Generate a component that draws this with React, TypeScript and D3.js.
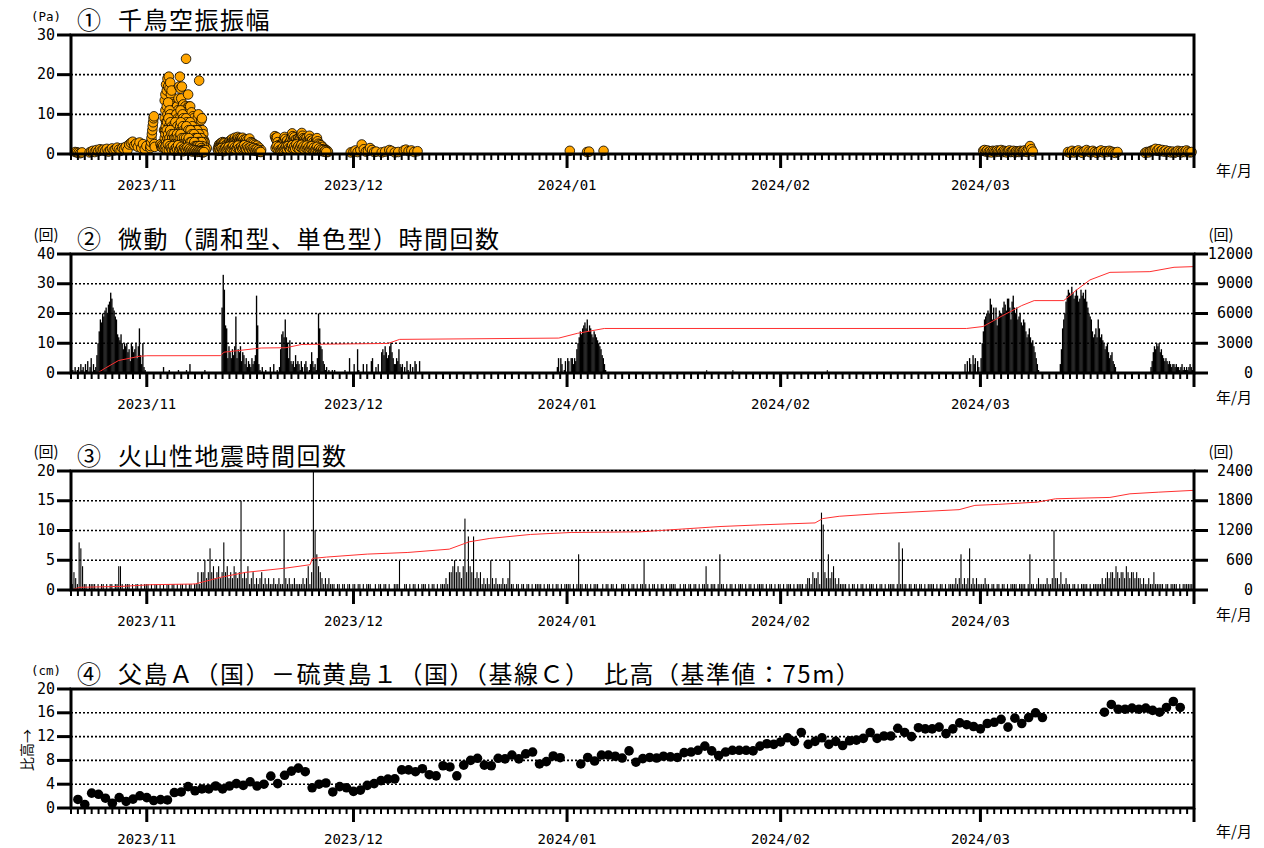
import React from "react";
import * as d3 from "d3";

// ---------- time origin (day offsets are counted from 2023-10-21 00:00) ----------
const ORIGIN = Date.UTC(2023, 9, 21);
const END = Date.UTC(2024, 3, 1);
const DAY = 86400000;
const at = (d: number) => new Date(ORIGIN + d * DAY);

// ---------- Panel 1: Chidori infrasound amplitude (Pa) ----------
const ampA1 = [0.5, 0.4, 0.3, 0.2, 0.4];
const ampA2 = [0.4, 0.6, 0.8, 0.5, 1.0, 0.7, 1.2, 0.9, 1.1, 0.8, 1.3, 0.6, 1.0, 1.4, 0.9, 1.2, 1.6, 1.1, 0.8, 1.5, 1.3, 1.8, 1.0, 2.4, 2.8, 3.1, 2.2, 2.6, 1.8, 2.9, 1.5, 2.5, 1.2, 2.0];
const ampB = [1.5, 2.0, 3.0, 4.0, 5.0, 6.0, 7.0, 8.0, 9.0, 9.5, 2.5, 1.8];
const ampCTop = [2.5, 1.8, 2.2, 1.6, 2.0, 6.0, 13.5, 15.0, 17.5, 16.0, 19.0, 17.0, 19.5, 16.5, 18.0, 15.0, 16.0, 13.0, 12.5, 10.0, 11.0, 12.0, 10.5, 11.5, 12.0, 11.0, 14.0, 17.0, 19.5, 16.5, 14.0, 17.0, 12.0, 12.5, 11.0, 10.0, 12.0, 24.0, 11.5, 10.5, 15.0, 12.0, 11.0, 12.0, 10.0, 10.5, 8.5, 9.5, 9.0, 7.5, 7.0, 6.5, 8.0, 7.5, 9.0, 10.0, 18.5, 6.0, 5.5, 8.5, 9.0, 6.0, 5.0, 3.5, 3.0, 1.5, 1.2, 1.5];
const ampCMid = [9, 11, 8, 12, 10, 13, 9, 11, 10, 8, 9, 7, 8, 6, 9, 7, 8, 10, 7, 9, 8, 6, 9, 11, 8, 7, 10, 9, 8, 6, 7, 9, 8, 6, 7, 5, 6, 8, 5, 6, 7, 5, 4, 6, 5, 4, 5, 6, 4, 3, 5, 4, 3, 4, 3, 2, 3, 2];
const ampCMid2 = [6, 7, 5, 8, 6, 9, 7, 6, 8, 5, 7, 6, 5, 7, 6, 8, 5, 6, 7, 5, 6, 4, 7, 8, 6, 5, 7, 6, 5, 4, 6, 7, 5, 4, 6, 3, 5, 6, 4, 5, 4, 3, 5, 4, 3, 4, 3, 4, 3, 2, 3, 3, 2, 3, 2];
const ampCLow = [4, 5, 3, 6, 4, 5, 3, 4, 6, 3, 5, 4, 3, 5, 4, 2, 4, 3, 5, 4, 3, 2, 4, 5, 3, 4, 2, 3, 4, 3, 2, 4, 3, 2, 3, 4, 2, 3, 2, 3, 2, 1.5, 2, 3, 2, 1.5, 2, 1, 2, 1.5, 1, 2, 1, 1.5, 1, 1, 0.8, 1, 0.7, 1];
const ampCBase = [1.5, 2, 1, 2.5, 1, 2, 1.5, 1, 2, 1, 0.8, 1.6, 1.2, 2.2, 0.9, 1.4, 1.8, 1.1, 0.7, 1.5, 1.2, 0.9, 1.6, 1.0, 1.3, 0.8, 1.1, 0.6, 1.0, 0.7, 0.9, 0.5, 0.8, 0.6, 0.7, 0.5, 0.6, 0.4, 0.5];
const ampDTop = [1.2, 1.8, 2.4, 2.0, 2.6, 2.8, 2.2, 3.0, 2.5, 2.9, 2.7, 2.1, 1.8, 2.4, 2.0, 1.5, 2.8, 3.2, 2.6, 3.5, 3.0, 3.8, 3.3, 2.9, 3.6, 4.1, 3.4, 3.0, 3.7, 4.3, 3.9, 3.2, 3.6, 4.0, 3.5, 3.8, 4.1, 3.3, 3.6, 2.8, 3.2, 3.7, 2.9, 3.4, 2.6, 3.1, 3.9, 2.7, 3.0, 2.4, 2.8, 2.2, 2.6, 1.9, 2.3, 1.8, 1.5, 2.1, 1.4, 1.0, 1.6, 0.8, 0.6, 1.0];
const ampDLow = [0.8, 1.2, 0.9, 1.5, 1.1, 0.7, 1.3, 1.6, 1.0, 1.4, 1.8, 1.2, 0.9, 1.5, 2.0, 1.3, 1.7, 1.1, 1.6, 2.1, 1.4, 1.0, 1.8, 1.3, 1.6, 2.2, 1.5, 1.2, 1.9, 1.4, 1.0, 1.7, 1.3, 0.9, 1.5, 1.1, 0.8, 1.2, 0.7, 1.0, 0.6, 0.5];
const ampETop = [4.5, 4.0, 3.6, 4.2, 3.0, 2.2, 1.8, 1.5, 2.0, 1.6, 2.4, 2.0, 3.0, 3.5, 4.3, 3.8, 3.0, 2.6, 3.4, 2.5, 2.0, 2.8, 3.2, 2.6, 4.0, 5.2, 4.5, 3.8, 4.2, 3.5, 3.0, 3.6, 2.8, 3.3, 4.0, 3.5, 3.0, 4.2, 4.8, 5.3, 4.6, 4.0, 3.5, 3.8, 3.2, 3.6, 4.0, 3.3, 2.9, 3.4, 4.6, 3.8, 3.2, 2.8, 3.4, 2.6, 3.0, 2.5, 2.2, 2.8, 3.5, 4.0, 3.2, 2.6, 2.0, 2.4, 1.8, 2.2, 1.5, 1.8, 1.2, 1.0, 1.3, 0.8, 1.0, 0.6, 0.8, 0.5];
const ampELow = [1.5, 2.0, 1.2, 1.8, 1.0, 0.8, 1.2, 1.6, 1.0, 1.4, 1.8, 1.2, 2.0, 1.5, 1.1, 1.7, 2.2, 1.4, 1.9, 1.3, 2.4, 1.6, 2.0, 1.2, 1.8, 2.3, 1.5, 1.9, 1.1, 1.6, 2.1, 1.3, 1.7, 1.0, 1.5, 2.0, 1.2, 1.6, 0.9, 1.3, 1.8, 1.0, 1.4, 0.8, 1.1, 0.7, 1.0, 0.6, 0.8, 0.5];
const ampH = [0.8, 1.0, 0.6, 0.9, 0.5, 0.7, 0.4, 0.8, 0.6, 0.5, 0.9, 0.7, 0.6, 1.0, 0.5, 0.8, 0.6, 0.4, 0.7, 0.9, 0.5, 0.6, 0.8, 0.4, 0.7, 0.6, 0.5, 0.8, 0.6, 0.7, 0.9, 0.6, 0.5, 1.4, 2.0, 1.2, 0.6];
const ampI = [0.5, 0.3, 0.8, 0.4, 0.6, 0.9, 0.5, 0.3, 0.7, 1.0, 0.6, 0.4, 0.8, 0.5, 0.3, 0.6, 0.9, 0.4, 0.7, 0.5, 0.8, 0.6, 0.4, 0.3, 0.5];
const ampJ = [0.3, 0.5, 0.4, 0.7, 0.9, 1.0, 1.3, 0.8, 1.2, 0.7, 1.0, 0.6, 0.9, 0.5, 0.7, 0.4, 0.6, 0.3, 0.5, 0.8, 0.6, 0.4, 0.7, 0.5, 0.9, 0.6, 0.4, 0.5];
const ampSingles: [number, number][] = [
  [40.6, 0.4], [41.0, 0.6], [41.3, 0.9], [41.6, 0.5], [42.0, 1.0], [42.2, 2.4], [42.5, 1.2], [42.8, 0.6], [43.1, 0.8], [43.4, 1.5], [43.7, 1.0], [44.0, 0.5], [44.3, 0.6], [45.1, 0.4], [45.6, 0.6], [46.2, 1.0], [46.5, 0.8], [47.0, 0.4], [47.5, 0.5], [48.3, 0.9], [48.6, 1.1], [49.0, 0.7], [49.4, 0.9], [49.8, 0.5], [50.3, 0.7],
  [72.4, 0.8], [74.9, 0.5], [75.2, 0.6], [77.3, 0.8],
];
const ampSeries = [
  { start: 0.6, step: 0.25, values: ampA1 },
  { start: 2.7, step: 0.25, values: ampA2 },
  { start: 11.5, step: 0.06, values: ampB },
  { start: 13.0, step: 0.1, values: ampCTop },
  { start: 13.6, step: 0.1, values: ampCMid },
  { start: 13.65, step: 0.1, values: ampCMid2 },
  { start: 13.6, step: 0.1, values: ampCLow },
  { start: 13.6, step: 0.15, values: ampCBase },
  { start: 21.3, step: 0.1, values: ampDTop },
  { start: 21.4, step: 0.15, values: ampDLow },
  { start: 29.6, step: 0.1, values: ampETop },
  { start: 29.7, step: 0.15, values: ampELow },
  { start: 132.4, step: 0.2, values: ampH },
  { start: 144.7, step: 0.3, values: ampI },
  { start: 155.9, step: 0.25, values: ampJ },
];

// ---------- Panel 2: tremor hourly counts (4-hour bins, 6 per day) ----------
const tremorW1 = [
  0, 1, 0, 2, 0, 1, 2, 0, 3, 1, 2, 0, 3, 1, 4, 0, 2, 5, 0, 3, 1, 2, 6, 10,
  14, 18, 17, 20, 19, 21, 22, 20, 23, 24, 27, 25, 22, 21, 19, 18, 13, 12,
  11, 13, 10, 8, 10, 9, 10, 7, 8, 4, 10, 9, 7, 8, 10, 5, 9, 15, 6, 3, 10, 2, 1, 0,
];
const tremorW2 = [
  0, 0, 2, 0, 0, 0, 0, 1, 0, 0, 0, 0, 0, 0, 0, 1, 0, 0, 0, 0, 0, 0, 1, 0,
  0, 3, 0, 0, 0, 0, 0, 0, 0, 0, 0, 0, 0, 0, 1, 0, 0, 0, 0, 0, 0, 0, 0, 0,
  0, 0, 0, 0, 0, 22, 33, 28, 16, 15, 5, 9, 7, 5, 8, 6, 9, 19, 5, 8, 7, 9, 4, 7,
  6, 3, 5, 2, 4, 3, 2, 5, 3, 4, 6, 26, 16, 3, 1, 0, 2, 0, 0, 1, 0, 0, 0, 2,
  0, 0, 3, 0, 0, 1, 0, 2, 8, 13, 14, 12, 18, 12, 10, 5, 11, 4, 3, 4, 2, 6, 3, 4,
  3, 1, 4, 2, 0, 3, 4, 2, 0, 1, 3, 7, 4, 2, 3, 1, 5, 20, 15, 9, 8, 4, 3, 1,
  2, 0, 1, 0, 0, 1, 0, 1, 0, 0, 0, 0, 0, 0, 0, 0, 1, 0, 0, 0, 5, 0, 0, 0,
  3, 0, 0, 8, 1, 0, 0, 0, 3, 0, 0, 3, 0, 0, 0, 4, 5, 0, 0, 2, 0, 3, 0, 0,
  7, 8, 6, 9, 7, 5, 6, 9, 10, 7, 5, 3, 3, 5, 4, 8, 3, 2, 3, 0, 2, 0, 4, 1,
  0, 3, 0, 2, 0, 4, 3, 0, 0, 4, 0, 0,
];
const tremorW3 = [
  0, 0, 0, 2, 5, 0, 5, 3, 0, 1, 4, 0, 5, 4, 0, 5, 5, 3, 5, 4, 8, 10, 12, 14,
  13, 15, 16, 17, 15, 18, 14, 16, 15, 13, 12, 14, 13, 12, 11, 10, 9, 8, 6, 5, 3, 1, 0, 0,
];
const tremorW4 = [
  0, 0, 0, 0, 3, 0, 4, 0, 5, 3, 0, 6, 3, 5, 0, 4, 2, 0,
  5, 10, 14, 18, 19, 20, 21, 20, 25, 23, 18, 22, 18, 22, 16, 19, 21, 20,
  20, 22, 24, 23, 21, 25, 25, 22, 18, 24, 26, 22, 20, 22, 18, 19, 20, 17,
  16, 18, 17, 14, 12, 13, 15, 12, 10, 11, 9, 7, 5, 3, 1, 0, 0, 0,
  0, 0, 0, 0, 0, 0, 0, 0, 0, 0, 0, 0, 0, 0, 0, 3, 8, 15,
  18, 20, 24, 26, 28, 27, 26, 29, 27, 25, 26, 28, 26, 24, 25, 28, 26, 27,
  25, 28, 24, 22, 20, 19, 18, 14, 12, 13, 15, 12, 18, 15, 12, 13, 11, 10,
  8, 9, 10, 7, 5, 6, 7, 4, 3, 2, 0, 0,
  0, 0, 0, 0, 0, 0, 0, 0, 0, 0, 0, 0, 0, 0, 0, 0, 0, 0, 0, 0, 0, 0, 0, 0,
  0, 0, 0, 0, 2, 4, 7, 9, 8, 10, 9, 10, 7, 8, 6, 5, 4, 5, 4, 3, 4, 3, 2, 3,
  3, 2, 3, 2, 2, 1, 2, 3, 1, 2, 1, 2, 1, 2, 3, 2, 1, 3,
];
const tremorSingles: [number, number][] = [[92.2, 1], [96.0, 1], [109.7, 1]];
const tremorWindows = [
  { start: 0, values: tremorW1 },
  { start: 13, values: tremorW2 },
  { start: 70, values: tremorW3 },
  { start: 129, values: tremorW4 },
];
const tremorCumDays = [0, 3.9, 5.0, 6.9, 9.9, 11, 21.7, 22.2, 27.6, 31.2, 33.5, 46, 47.7, 70.8, 73.5, 77.4, 130, 132.4, 135, 138, 139.8, 144.1, 146, 147.9, 150.8, 156.6, 160.1, 163];
const tremorCumValues = [0, 30, 500, 1260, 1680, 1740, 1750, 2100, 2520, 2550, 2880, 2980, 3390, 3520, 4000, 4490, 4490, 4690, 5700, 6800, 7300, 7300, 8400, 9385, 10150, 10220, 10660, 10730];

// ---------- Panel 3: volcanic earthquake hourly counts (6-hour bins, 4 per day) ----------
const eqOct = [1, 3, 2, 1, 8, 7, 4, 1, 1, 0, 1, 1, 1, 1, 0, 1, 0, 1, 1, 0, 1, 0, 1, 1, 0, 1, 1, 4, 4, 1, 0, 1, 1, 1, 0, 1, 0, 1, 1, 0, 1, 0, 1, 1];
const eqNov = [
  1, 0, 1, 0, 1, 1, 0, 1, 0, 1, 0, 1, 1, 0, 1, 1, 0, 1, 0, 1, 1, 0, 1, 0, 1, 1, 0, 1,
  1, 3, 1, 3, 3, 5, 2, 3, 7, 3, 4, 2, 3, 4, 2, 3, 8, 3, 4, 2, 3, 2, 4, 3, 2, 3, 15, 2,
  3, 2, 4, 1, 2, 3, 1, 2, 1, 2, 3, 1, 2, 1, 2, 1, 1, 2, 1, 1, 2, 1, 1, 10, 2, 1, 2, 1,
  1, 2, 1, 1, 1, 1, 2, 1, 2, 4, 1, 3, 20, 10, 6, 4, 3, 2, 1, 2, 1, 2, 1, 1, 1, 0, 1, 1,
  0, 1, 1, 0, 1, 1, 0, 1,
];
const eqDec = [
  1, 0, 1, 1, 0, 1, 0, 1, 1, 1, 0, 0, 1, 0, 1, 1, 0, 1, 1, 0, 1, 0, 0, 1, 1, 1, 5, 0,
  0, 1, 1, 0, 1, 0, 1, 1, 0, 1, 0, 1, 1, 1, 0, 1, 0, 1, 1, 0, 1, 0, 1, 1, 1, 2, 1, 3,
  3, 4, 5, 3, 4, 3, 2, 4, 12, 3, 9, 4, 3, 9, 2, 3, 2, 3, 1, 2, 1, 2, 1, 5, 2, 1, 2, 1,
  1, 1, 2, 1, 1, 2, 5, 1, 1, 0, 1, 1, 0, 1, 1, 0, 1, 1, 0, 1, 0, 1, 1, 1, 1, 0, 1, 0,
  1, 1, 0, 1, 0, 1, 1, 0, 1, 0, 1, 1,
];
const eqJan = [
  1, 1, 0, 1, 0, 1, 6, 1, 1, 0, 1, 1, 0, 1, 0, 1, 1, 1, 0, 0, 1, 0, 1, 1, 0, 1, 1, 0,
  1, 0, 0, 1, 1, 1, 0, 1, 0, 1, 1, 0, 1, 0, 1, 1, 5, 1, 0, 1, 0, 1, 1, 0, 1, 0, 1, 1,
  0, 1, 0, 1, 1, 1, 1, 0, 0, 1, 0, 1, 1, 0, 1, 1, 0, 1, 1, 0, 1, 0, 1, 1, 4, 1, 0, 1,
  1, 1, 0, 1, 6, 1, 1, 0, 1, 0, 1, 1, 0, 1, 0, 1, 1, 1, 0, 1, 0, 1, 1, 0, 1, 0, 1, 1,
  1, 1, 0, 1, 0, 1, 1, 0, 1, 0, 1, 1,
];
const eqFeb = [
  0, 1, 0, 1, 1, 1, 0, 1, 0, 1, 1, 1, 1, 0, 1, 2, 2, 1, 3, 2, 2, 3, 1, 13, 11, 3, 2, 6,
  2, 3, 4, 2, 1, 2, 1, 1, 1, 1, 0, 1, 0, 1, 1, 0, 1, 0, 1, 1, 0, 1, 0, 1, 1, 1, 0, 1,
  0, 1, 1, 0, 1, 0, 1, 1, 1, 1, 0, 1, 8, 1, 7, 1, 1, 0, 1, 1, 0, 1, 1, 0, 1, 1, 0, 1,
  0, 1, 1, 1, 1, 0, 1, 0, 1, 1, 0, 1, 0, 1, 1, 1, 1, 2, 1, 2, 6, 1, 2, 1, 2, 7, 1, 2,
  1, 2, 1, 1,
];
const eqMar = [
  1, 1, 2, 1, 1, 0, 1, 1, 0, 1, 1, 0, 1, 1, 0, 1, 0, 1, 1, 1, 1, 0, 1, 1, 1, 1, 0, 1,
  6, 1, 1, 0, 1, 2, 1, 1, 1, 1, 2, 1, 1, 2, 10, 2, 2, 1, 3, 1, 1, 2, 1, 1, 0, 1, 1, 0,
  1, 0, 1, 1, 1, 1, 0, 1, 0, 1, 1, 1, 1, 1, 2, 1, 2, 3, 2, 3, 3, 2, 4, 3, 2, 3, 3, 2,
  4, 3, 2, 3, 3, 2, 3, 2, 2, 1, 2, 1, 1, 2, 1, 1, 3, 1, 1, 1, 1, 1, 0, 1, 1, 0, 1, 1,
  1, 1, 0, 1, 0, 1, 1, 1, 1, 1, 1, 1,
];
const eqMonths = [
  { start: 0, values: eqOct },
  { start: 11, values: eqNov },
  { start: 41, values: eqDec },
  { start: 72, values: eqJan },
  { start: 103, values: eqFeb },
  { start: 132, values: eqMar },
];
const eqCumDays = [0, 1.26, 7.5, 11.6, 17.6, 18.1, 21.7, 25.3, 31.2, 34.7, 35.05, 37.1, 43, 48.9, 54.9, 57.8, 60.8, 66.7, 72.6, 82.6, 94.2, 99.9, 108, 109.1, 111.5, 117.3, 128.9, 131.2, 134.6, 140.3, 142.9, 150.8, 153.7, 157.8, 163];
const eqCumValues = [0, 54, 74, 107, 120, 125, 255, 355, 442, 510, 637, 664, 724, 757, 824, 972, 1040, 1120, 1160, 1173, 1280, 1313, 1353, 1440, 1487, 1540, 1620, 1707, 1727, 1773, 1840, 1867, 1940, 1973, 2010];

// ---------- Panel 4: GNSS baseline relative height (cm), daily ----------
const gnssOctDec = [1.44, 0.6, 2.5, 2.3, 1.65, 0.8, 1.75, 1.1, 1.5, 2.05, 1.75, 1.25, 1.4, 1.35, 2.6, 2.7, 3.6, 2.9, 3.2, 3.2, 3.7, 3.2, 3.7, 4.1, 3.8, 4.4, 3.7, 4.0, 5.35, 4.1, 5.5, 6.2, 6.7, 6.1, 3.4, 4.0, 4.2, 2.7, 3.6, 3.4, 2.8, 3.0, 3.8, 4.1, 4.6, 4.85, 4.9, 6.4, 6.4, 6.1, 6.6, 5.6, 5.4, 7.1, 6.9, 5.4, 7.2, 8.0, 8.35, 7.2, 7.1, 8.35, 8.25, 8.9, 8.25, 9.1, 9.4, 7.4, 7.8, 8.75, 8.45];
const gnssJanMar = [
  7.4, 8.5, 7.9, 8.9, 8.9, 8.7, 8.4, 9.6, 7.7,
  8.3, 8.5, 8.4, 8.7, 8.6, 8.5, 9.3, 9.4, 9.7, 10.4, 9.6, 8.8, 9.4, 9.7, 9.7, 9.7, 9.6, 10.4, 10.8, 10.7,
  11.1, 11.8, 11.2, 12.7, 10.7, 11.2, 11.8, 10.7, 11.2, 10.5, 11.3, 11.4, 11.7, 12.7, 11.7, 12.1, 12.1, 13.4, 12.7, 12.0, 13.5, 13.3, 13.3, 13.6, 12.5, 13.3, 14.3, 14.0, 13.7,
  13.3, 14.2, 14.4, 14.9, 13.6, 15.1, 14.2, 15.2, 16.0, 15.2,
];
const gnssLateMar = [16.1, 17.4, 16.6, 16.6, 16.8, 16.6, 16.8, 16.4, 16.1, 16.9, 17.9, 16.9];
const gnssSeries = [
  { start: 1, values: gnssOctDec },
  { start: 74, values: gnssJanMar },
  { start: 150, values: gnssLateMar },
];

// ---------- axis labels ----------
const ticks1 = [0, 10, 20, 30];
const ticks2 = [0, 10, 20, 30, 40];
const ticks2R = [0, 3000, 6000, 9000, 12000];
const ticks3 = [0, 5, 10, 15, 20];
const ticks3R = [0, 600, 1200, 1800, 2400];
const ticks4 = [0, 4, 8, 12, 16, 20];

// ---------- layout ----------
const LEFT = 71;
const RIGHT = 1194;
const PH = 119;
const TOPS = [35, 254, 471, 689];
const MONO = "'DejaVu Sans Mono', monospace";
const JP = "'Noto Sans CJK JP', sans-serif";

export default function App() {
  const x = d3.scaleUtc().domain([new Date(ORIGIN), new Date(END)]).range([LEFT, RIGHT]);
  const xd = (d: number) => x(at(d));
  const days = d3.utcDay.range(new Date(ORIGIN), new Date(END + 1));
  const months = d3.utcMonth.range(new Date(ORIGIN), new Date(END + 1));
  const fmt = d3.utcFormat("%Y/%m");

  const grid = (top: number, max: number, ticks: number[]) => {
    const y = d3.scaleLinear().domain([0, max]).range([top + PH, top]);
    return ticks
      .filter((t) => t > 0 && t < max)
      .map((t) => (
        <line key={"g" + t} x1={LEFT} x2={RIGHT} y1={y(t)} y2={y(t)} stroke="#000" strokeWidth={1.6} strokeDasharray="2 2" />
      ));
  };

  const axes = (
    top: number,
    max: number,
    ticks: number[],
    unit: string,
    num: string,
    title: string,
    ymOffset: number,
    rMax?: number,
    rTicks?: number[],
  ) => {
    const bottom = top + PH;
    const y = d3.scaleLinear().domain([0, max]).range([bottom, top]);
    const yr = rMax ? d3.scaleLinear().domain([0, rMax]).range([bottom, top]) : null;
    const jpUnit = unit.includes("回");
    return (
      <g>
        <rect x={LEFT} y={top} width={RIGHT - LEFT} height={PH} fill="none" stroke="#000" strokeWidth={3} />
        {days.map((dd, i) => (
          <line key={"d" + i} x1={x(dd)} x2={x(dd)} y1={bottom} y2={bottom + 6} stroke="#000" strokeWidth={2} />
        ))}
        {months.map((m, i) => (
          <line key={"m" + i} x1={x(m)} x2={x(m)} y1={bottom} y2={bottom + 14} stroke="#000" strokeWidth={3} />
        ))}
        {months
          .filter((m) => +m < END)
          .map((m, i) => (
            <text key={"ml" + i} x={x(m)} y={bottom + 32} textAnchor="middle" dominantBaseline="middle" fontFamily={MONO} fontSize={14}>
              {fmt(m)}
            </text>
          ))}
        <text x={1234} y={bottom + ymOffset} textAnchor="middle" dominantBaseline="middle" fontFamily={JP} fontSize={15}>
          年/月
        </text>
        {ticks.map((t) => (
          <g key={"yt" + t}>
            <line x1={LEFT - 14} x2={LEFT} y1={y(t)} y2={y(t)} stroke="#000" strokeWidth={3} />
            <text x={LEFT - 16} y={y(t)} textAnchor="end" dominantBaseline="middle" fontFamily={MONO} fontSize={15}>
              {t}
            </text>
          </g>
        ))}
        {yr &&
          rTicks!.map((t) => (
            <g key={"rt" + t}>
              <line x1={RIGHT} x2={RIGHT + 14} y1={yr(t)} y2={yr(t)} stroke="#000" strokeWidth={3} />
              <text x={1253} y={yr(t)} textAnchor="end" dominantBaseline="middle" fontFamily={MONO} fontSize={15}>
                {t}
              </text>
            </g>
          ))}
        <text x={46} y={top - 18} textAnchor="middle" dominantBaseline="middle" fontFamily={jpUnit ? JP : MONO} fontSize={jpUnit ? 15 : 12.5}>
          {unit}
        </text>
        {yr && (
          <text x={1221} y={top - 18} textAnchor="middle" dominantBaseline="middle" fontFamily={JP} fontSize={15}>
            (回)
          </text>
        )}
        <text x={77} y={top - 6.5} fontFamily={JP} fontSize={24}>
          {num}
        </text>
        <text x={118} y={top - 6.5} fontFamily={JP} fontSize={24} letterSpacing={1.5}>
          {title}
        </text>
      </g>
    );
  };

  // panel scales
  const y1 = d3.scaleLinear().domain([0, 30]).range([TOPS[0] + PH, TOPS[0]]);
  const y2 = d3.scaleLinear().domain([0, 40]).range([TOPS[1] + PH, TOPS[1]]);
  const y2r = d3.scaleLinear().domain([0, 12000]).range([TOPS[1] + PH, TOPS[1]]);
  const y3 = d3.scaleLinear().domain([0, 20]).range([TOPS[2] + PH, TOPS[2]]);
  const y3r = d3.scaleLinear().domain([0, 2400]).range([TOPS[2] + PH, TOPS[2]]);
  const y4 = d3.scaleLinear().domain([0, 20]).range([TOPS[3] + PH, TOPS[3]]);

  const ampPoints: [number, number][] = [];
  ampSeries.forEach((s) => s.values.forEach((v, i) => ampPoints.push([s.start + i * s.step, v])));
  ampSingles.forEach((p) => ampPoints.push(p));

  const tremorBars: [number, number][] = [];
  tremorWindows.forEach((w) => w.values.forEach((v, i) => { if (v > 0) tremorBars.push([w.start + i / 6, v]); }));

  const eqBars: [number, number][] = [];
  eqMonths.forEach((m) => m.values.forEach((v, i) => { if (v > 0) eqBars.push([m.start + i / 4 + 0.1, v]); }));

  const gnssPoints: [number, number][] = [];
  gnssSeries.forEach((s) => s.values.forEach((v, i) => gnssPoints.push([s.start + i, v])));

  const line2 = d3.line<number>().x((_, i) => xd(tremorCumDays[i])).y((v) => y2r(v));
  const line3 = d3.line<number>().x((_, i) => xd(eqCumDays[i])).y((v) => y3r(v));

  const binW = xd(1 / 6) - xd(0);

  return (
    <svg width={1264} height={848} style={{ position: "absolute", left: 0, top: 0, background: "#fff" }}>
      <rect x={0} y={0} width={1264} height={848} fill="#fff" />
      {/* Panel 1 */}
      {grid(TOPS[0], 30, ticks1)}
      <g>
        {ampPoints.map(([d, v], i) => (
          <circle key={i} cx={xd(d)} cy={y1(v)} r={4.8} fill="#FFA500" stroke="#000" strokeWidth={0.8} />
        ))}
      </g>
      {axes(TOPS[0], 30, ticks1, "(Pa)", "①", "千鳥空振振幅", 18)}

      {/* Panel 2 */}
      {grid(TOPS[1], 40, ticks2)}
      <g>
        {tremorBars.map(([d, v], i) => (
          <rect key={i} x={xd(d)} y={y2(v)} width={binW + 0.2} height={y2(0) - y2(v)} fill="#000" />
        ))}
        {tremorSingles.map(([d, v], i) => (
          <rect key={"s" + i} x={xd(d)} y={y2(v)} width={1} height={y2(0) - y2(v)} fill="#000" />
        ))}
      </g>
      <path d={line2(tremorCumValues) || ""} fill="none" stroke="#ff3030" strokeWidth={1} />
      {axes(TOPS[1], 40, ticks2, "(回)", "②", "微動（調和型、単色型）時間回数", 26, 12000, ticks2R)}

      {/* Panel 3 */}
      {grid(TOPS[2], 20, ticks3)}
      <g>
        {eqBars.map(([d, v], i) => (
          <rect key={i} x={xd(d)} y={y3(v)} width={1.1} height={y3(0) - y3(v)} fill="#000" />
        ))}
      </g>
      <path d={line3(eqCumValues) || ""} fill="none" stroke="#ff3030" strokeWidth={1} />
      {axes(TOPS[2], 20, ticks3, "(回)", "③", "火山性地震時間回数", 26, 2400, ticks3R)}

      {/* Panel 4 */}
      {grid(TOPS[3], 20, ticks4)}
      <g>
        {gnssPoints.map(([d, v], i) => (
          <circle key={i} cx={xd(d)} cy={y4(v)} r={4.8} fill="#000" />
        ))}
      </g>
      {axes(TOPS[3], 20, ticks4, "(cm)", "④", "父島Ａ（国）－硫黄島１（国）（基線Ｃ）　比高（基準値：75m）", 25)}
      <text transform={`translate(28, ${TOPS[3] + 61}) rotate(-90)`} textAnchor="middle" dominantBaseline="middle" fontFamily={JP} fontSize={14}>
        比高→
      </text>
    </svg>
  );
}
